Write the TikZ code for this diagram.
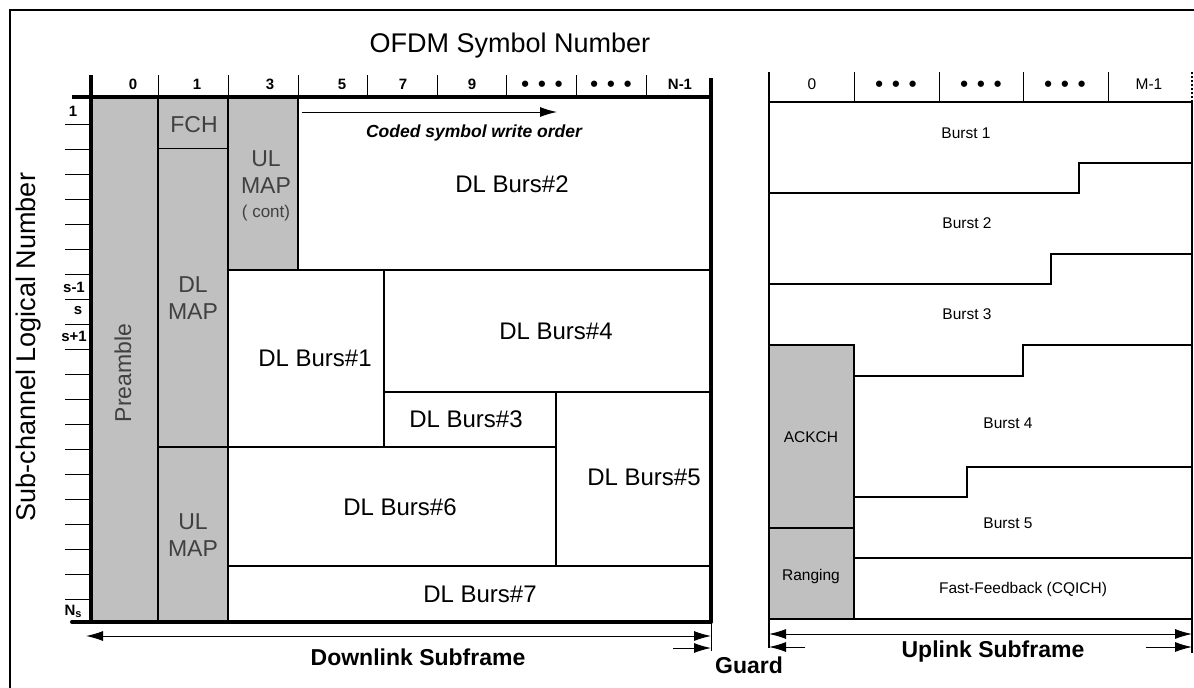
\documentclass[tikz,border=0pt]{standalone}
\usepackage{fontspec}
\setmainfont{Liberation Sans}
\usetikzlibrary{arrows.meta}
\definecolor{cellgray}{RGB}{192,192,192}
\definecolor{celltext}{RGB}{64,64,64}
\newcommand{\symdots}{{\fontsize{22}{22}\selectfont •\hspace{9pt}•\hspace{9pt}•}}
\tikzset{>={Latex[length=17pt,width=10pt]}}
\tikzset{
  thickline/.style = {line width=4pt},
  cellline/.style = {line width=2.5pt},
  ulline/.style = {line width=2pt},
  thinline/.style = {line width=1pt},
  graylabel/.style = {text=celltext, font=\fontsize{23}{27}\selectfont, align=center, inner sep=0pt},
  burstlabel/.style = {font=\fontsize{24}{28}\selectfont, inner sep=0pt},
  ullabel/.style = {font=\fontsize{15.5}{18}\selectfont, inner sep=0pt},
  numlabel/.style = {font=\bfseries\fontsize{15}{18}\selectfont, inner sep=0pt},
  sublabel/.style = {font=\bfseries\fontsize{23}{27}\selectfont, inner sep=0pt},
  axislabel/.style = {font=\fontsize{27}{30}\selectfont, inner sep=0pt}
}

\begin{document}
\begin{tikzpicture}[x=1pt,y=-1pt]
  \useasboundingbox (0,0) rectangle (1194,688);
  % frame
  \draw[ulline] (10,688) -- (10,10) -- (1194,10);
  % axis titles
  \node[axislabel] (symtitle) at (510,46) {OFDM Symbol Number};
  \node[axislabel, rotate=90] (subtitle) at (29,347) {Sub-channel Logical Number};

  % downlink: gray columns
  \fill[cellgray] (91,97) rectangle (228,622);
  \fill[cellgray] (228,97) rectangle (298,270);
  % downlink: block borders
  \draw[cellline] (158,97) -- (158,622)
                  (228,97) -- (228,622)
                  (298,97) -- (298,270)
                  (228,270) -- (711,270)
                  (384,270) -- (384,447)
                  (384,392) -- (711,392)
                  (158,447) -- (556,447)
                  (556,392) -- (556,566)
                  (228,566) -- (711,566);
  \draw[thinline] (158,148) -- (228,148);
  % downlink: axes
  \draw[thickline] (91,75) -- (91,622);
  \draw[thickline] (72,97) -- (711,97);
  \draw[thickline, line cap=round] (72,622) -- (711,622);
  \draw[thickline] (711,78) -- (711,622);
  % symbol numbers
  \foreach \x in {158,228,298,367,437,506,576,646}
    \draw[thinline] (\x,75) -- (\x,97);
  \foreach \x/\n/\t in {133/c0/0, 197/c1/1, 270/c3/3, 342/c5/5, 403/c7/7, 472/c9/9, 680/cN/N-1}
    \node[numlabel] (\n) at (\x,84) {\t};
  \node[numlabel] (cdotsa) at (542,86) {\symdots};
  \node[numlabel] (cdotsb) at (611,86) {\symdots};
  % sub-channel numbers
  \foreach \y in {124,149,...,599}
    \draw[thinline] (65,\y) -- (91,\y);
  \node[numlabel] (r1) at (73,111) {1};
  \node[numlabel] (rsm) at (74,287) {s-1};
  \node[numlabel] (rs) at (78,311) {s};
  \node[numlabel] (rsp) at (74,336) {s+1};
  \node[numlabel] (rN) at (73,611) {N\raisebox{-2pt}{\fontsize{11}{11}\selectfont s}};

  % downlink: block labels
  \node[graylabel, rotate=90] (preamble) at (123,373) {Preamble};
  \node[graylabel] (fch) at (194,125) {FCH};
  \node[graylabel] (dlmap) at (193,298) {DL\\MAP};
  \node[graylabel] (ulmap) at (193,535) {UL\\MAP};
  \node[graylabel] (ulcont) at (266,186) {UL\\MAP\\[-3pt]{\fontsize{17}{20}\selectfont( cont)}};
  \node[burstlabel] (dl2) at (512,184) {DL Burs\#2};
  \node[burstlabel] (dl1) at (315,358) {DL Burs\#1};
  \node[burstlabel] (dl4) at (556,331) {DL Burs\#4};
  \node[burstlabel] (dl3) at (466,419) {DL Burs\#3};
  \node[burstlabel] (dl5) at (644,477) {DL Burs\#5};
  \node[burstlabel] (dl6) at (400,507) {DL Burs\#6};
  \node[burstlabel] (dl7) at (480,594) {DL Burs\#7};
  % write order
  \coordinate (wstart) at (302,112);
  \coordinate (wend) at (557,112);
  \draw[->, thinline] (wstart) -- (wend);
  \node[font=\bfseries\itshape\fontsize{17.5}{20}\selectfont, inner sep=0pt] (worder) at (474,133) {Coded symbol write order};

  % uplink: gray blocks
  \fill[cellgray] (769,345) rectangle (854,619);
  % uplink: borders
  \draw[ulline] (769,72) -- (769,648);
  \draw[ulline] (1192,102) -- (1192,653);
  \draw[ulline, dotted, line width=2.5pt] (1192,72) -- (1192,102);
  \draw[ulline] (769,102) -- (1192,102);
  \draw[ulline] (769,193) -- (1079,193) -- (1079,163) -- (1192,163);
  \draw[ulline] (769,284) -- (1051,284) -- (1051,254) -- (1192,254);
  \draw[ulline] (769,345) -- (854,345) -- (854,619);
  \draw[ulline] (854,376) -- (1023,376) -- (1023,345) -- (1192,345);
  \draw[ulline] (854,497) -- (967,497) -- (967,467) -- (1192,467);
  \draw[ulline] (854,558) -- (1192,558);
  \draw[ulline] (769,528) -- (854,528);
  \draw[ulline] (769,619) -- (1192,619);
  % uplink: symbol numbers
  \foreach \x in {854,939,1023,1108}
    \draw[thinline] (\x,72) -- (\x,102);
  \node[ullabel] (u0) at (812,84) {0};
  \node[ullabel, font=\bfseries] (udotsa) at (896,86) {\symdots};
  \node[ullabel, font=\bfseries] (udotsb) at (981,86) {\symdots};
  \node[ullabel, font=\bfseries] (udotsc) at (1065,86) {\symdots};
  \node[ullabel] (uM) at (1149,84) {M-1};
  % uplink: block labels
  \node[ullabel] (ub1) at (966,133) {Burst 1};
  \node[ullabel] (ub2) at (967,223) {Burst 2};
  \node[ullabel] (ub3) at (967,314) {Burst 3};
  \node[ullabel] (ub4) at (1008,423) {Burst 4};
  \node[ullabel] (ub5) at (1008,523) {Burst 5};
  \node[ullabel] (ackch) at (811,437) {ACKCH};
  \node[ullabel] (ranging) at (811,576) {Ranging};
  \node[ullabel] (cqich) at (1023,589) {Fast-Feedback (CQICH)};

  % subframe arrows
  \coordinate (dlleft) at (86,636);
  \coordinate (dlright) at (711,636);
  \coordinate (dlguard) at (673,648);
  \coordinate (dlend) at (711,648);
  \draw[thinline] (711,622) -- (711,651);
  \draw[<->, thinline] (dlleft) -- (dlright);
  \draw[->, thinline] (dlguard) -- (dlend);
  \node[sublabel] (dlsub) at (418,657) {Downlink Subframe};
  \node[sublabel] (guard) at (749,665) {Guard};
  \coordinate (ulleft) at (769,634);
  \coordinate (ulright) at (1192,634);
  \coordinate (ulguard) at (805,647);
  \coordinate (ulstart) at (769,647);
  \coordinate (ultail) at (1146,647);
  \coordinate (ulend) at (1192,647);
  \draw[<->, thinline] (ulleft) -- (ulright);
  \draw[->, thinline] (ulguard) -- (ulstart);
  \draw[->, thinline] (ultail) -- (ulend);
  \node[sublabel] (ulsub) at (993,652) {Uplink Subframe};
\end{tikzpicture}
\end{document}
